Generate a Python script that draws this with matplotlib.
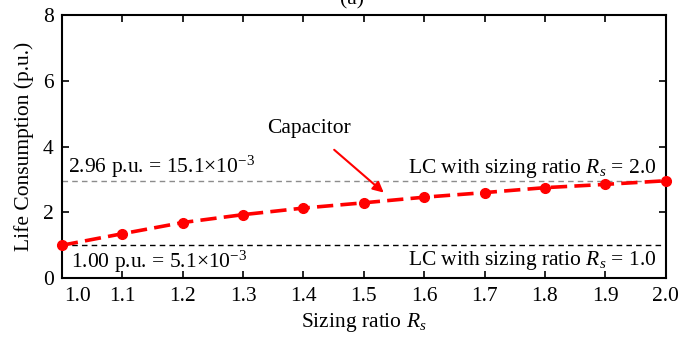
import matplotlib
matplotlib.use("Agg")
import matplotlib.pyplot as plt
from matplotlib.transforms import ScaledTranslation

plt.rcParams['font.family'] = ['Liberation Serif', 'DejaVu Serif']
plt.rcParams['mathtext.fontset'] = 'custom'
plt.rcParams['mathtext.rm'] = 'Liberation Serif'
plt.rcParams['mathtext.it'] = 'Liberation Serif:italic'

# Sizing ratio and capacitor life consumption (p.u.)
sizing_ratio = [1.0, 1.1, 1.2, 1.3, 1.4, 1.5, 1.6, 1.7, 1.8, 1.9, 2.0]
life_consumption = [1.00, 1.35, 1.69, 1.93, 2.13, 2.29, 2.46, 2.60, 2.75, 2.85, 2.96]
lc_ratio_2 = 2.96
lc_ratio_1 = 1.00
x_ticks = [1.0, 1.1, 1.2, 1.3, 1.4, 1.5, 1.6, 1.7, 1.8, 1.9, 2.0]
y_ticks = [0, 2, 4, 6, 8]

fig = plt.figure(figsize=(6.8, 3.38), dpi=100)
ax = fig.add_axes([0.091, 0.177, 0.888, 0.779])

ax.axhline(lc_ratio_2, color='#8c8c8c', lw=1.0, ls=(0, (4, 3)), zorder=1)
ax.axhline(lc_ratio_1, color='black', lw=1.0, ls=(0, (4, 3)), zorder=1)

ax.plot(sizing_ratio, life_consumption, color='red', lw=2.6, ls=(0, (4.5, 2)),
        marker='o', markersize=7, clip_on=False, zorder=3)

fs = 15.5
ax.set_xlim(1.0, 2.0)
ax.set_ylim(0, 8)
ax.set_xticks(x_ticks)
ax.set_xticklabels([f"{v:.1f}" for v in x_ticks], fontsize=fs)
ax.set_yticks(y_ticks)
ax.set_yticklabels([str(v) for v in y_ticks], fontsize=fs)
ax.tick_params(direction='in', top=True, right=True, length=5, width=1.2, pad=6)
first = ax.get_xticklabels()[0]
first.set_horizontalalignment('left')
first.set_transform(first.get_transform() + ScaledTranslation(0.02, 0, fig.dpi_scale_trans))
for s in ax.spines.values():
    s.set_linewidth(1.5)

ax.set_xlabel(r'Sizing ratio $\mathit{R_s}$', fontsize=fs, labelpad=4)
ax.set_ylabel('Life Consumption (p.u.)', fontsize=fs, labelpad=6)

ax.text(1.01, lc_ratio_2 + 0.03, r'2.96 p.u. = 15.1$\times$10$^{-3}$', fontsize=fs, va='bottom', ha='left')
ax.text(1.015, lc_ratio_1 - 0.12, r'1.00 p.u. = 5.1$\times$10$^{-3}$', fontsize=fs, va='top', ha='left')
ax.text(1.985, lc_ratio_2 + 0.03, r'LC with sizing ratio $\mathit{R_s}$ = 2.0', fontsize=fs, va='bottom', ha='right')
ax.text(1.985, lc_ratio_1 - 0.12, r'LC with sizing ratio $\mathit{R_s}$ = 1.0', fontsize=fs, va='top', ha='right')

ax.annotate('Capacitor', xy=(1.533, 2.6), xytext=(1.41, 4.55),
            fontsize=fs, ha='center', va='center',
            arrowprops=dict(arrowstyle='-|>', color='red', lw=1.5,
                            mutation_scale=16, shrinkA=10, shrinkB=0))

fig.text(352 / 680, 1.0, '(a)', fontsize=fs, ha='center', va='center')

fig.savefig('out.png', dpi=100)
